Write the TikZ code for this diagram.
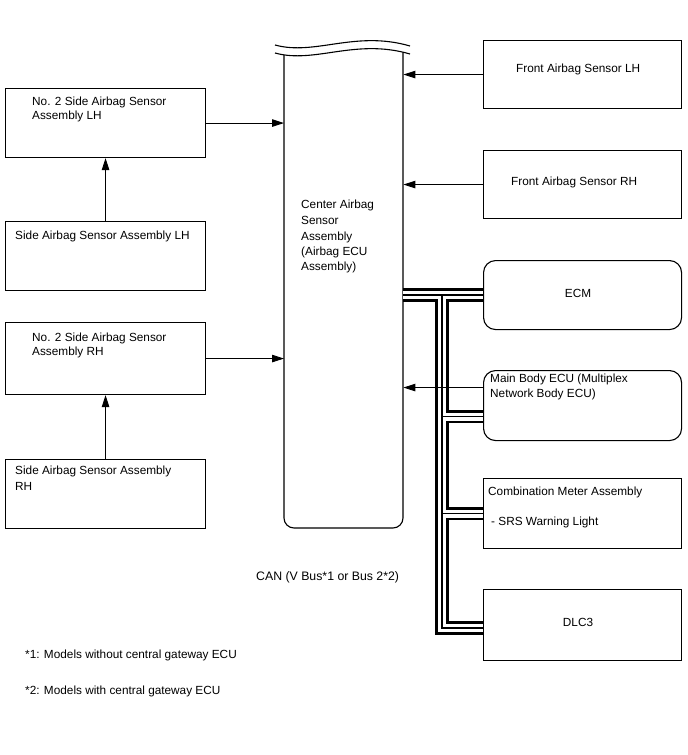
\documentclass[tikz,border=0pt]{standalone}
\usepackage{fontspec}
\setmainfont{Liberation Sans}
\usetikzlibrary{arrows.meta}
\begin{document}
\begin{tikzpicture}[x=1pt,y=-1pt,
  box/.style={draw, line width=1.1pt, inner sep=0pt, anchor=north west},
  txt/.style={anchor=base west, inner sep=0pt, font=\fontsize{11.8}{14}\selectfont},
  arr/.style={line width=0.9pt, -{Triangle[length=12pt,width=7.5pt]}},
  bus/.style={draw=black, line width=13.5pt,
    postaction={draw=white, line width=8pt},
    postaction={draw=black, line width=1.3pt}}]
\fill[white] (0,0) rectangle (688,755);
\useasboundingbox (0,0) rectangle (688,755);

% left boxes
\node[box, minimum width=200pt, minimum height=69pt] (lh2) at (5,88) {};
\node[box, minimum width=200pt, minimum height=69pt] (slh) at (5,221) {};
\node[box, minimum width=200pt, minimum height=72pt] (rh2) at (5,322) {};
\node[box, minimum width=200pt, minimum height=69pt] (srh) at (5,459) {};
% right boxes
\node[box, minimum width=198pt, minimum height=68pt] (flh) at (483,40) {};
\node[box, minimum width=198pt, minimum height=68pt] (frh) at (483,150) {};
\node[box, rounded corners=12pt, minimum width=198pt, minimum height=69pt] (ecm) at (483,260) {};
\node[box, rounded corners=12pt, minimum width=198pt, minimum height=70pt] (mb) at (483,370) {};
\node[box, minimum width=198pt, minimum height=70pt] (comb) at (483,478) {};
\node[box, minimum width=198pt, minimum height=71pt] (dlc) at (483,589) {};

% center box
\node[inner sep=0pt, anchor=north west, minimum width=119pt, minimum height=476pt] (cab) at (284,52) {};
\draw[line width=1.1pt, rounded corners=10pt] (284,55) -- (284,528) -- (403,528) -- (403,52.3);
\draw[line width=1.1pt] (275,45) .. controls (315,56) and (355,30) .. (410,46);
\draw[line width=1.1pt] (275,53) .. controls (315,64) and (355,38) .. (410,54);

% CAN bus
\coordinate (trunk) at (442,0);
\coordinate (mbj) at ([yshift=-11pt]mb.west);
\coordinate (dlcj) at ([yshift=-3pt]dlc.west);
\path[bus] (ecm.west -| cab.east) -- (ecm.west)
  (ecm.west -| trunk) -- (dlcj -| trunk) -- (dlcj)
  (mbj -| trunk) -- (mbj)
  (comb.west -| trunk) -- (comb.west);

% arrows
\draw[arr] (lh2.east) -- (lh2.east -| cab.west);
\draw[arr] (rh2.east) -- (rh2.east -| cab.west);
\draw[arr] (slh.north) -- (lh2.south);
\draw[arr] (srh.north) -- (rh2.south);
\draw[arr] (flh.west) -- (flh.west -| cab.east);
\draw[arr] (frh.west) -- (frh.west -| cab.east);
\coordinate (mba) at ([yshift=18pt]mb.west);
\draw[arr] (mba) -- (mba -| cab.east);

% texts
\node[txt] (t1a) at (32,105) {No. 2 Side Airbag Sensor};
\node[txt] (t1b) at (32,119) {Assembly LH};
\node[txt] (t2) at (15,239) {Side Airbag Sensor Assembly LH};
\node[txt] (t3a) at (32,341) {No. 2 Side Airbag Sensor};
\node[txt] (t3b) at (32,355) {Assembly RH};
\node[txt] (t4a) at (15,474) {Side Airbag Sensor Assembly};
\node[txt] (t4b) at (15,490) {RH};
\node[txt] (c1) at (301,208) {Center Airbag};
\node[txt] (c2) at (301,224) {Sensor};
\node[txt] (c3) at (301,240) {Assembly};
\node[txt] (c4) at (301,255) {(Airbag ECU};
\node[txt] (c5) at (301,270) {Assembly)};
\node[txt] (f1) at (516,72) {Front Airbag Sensor LH};
\node[txt] (f2) at (511,185) {Front Airbag Sensor RH};
\node[txt, anchor=base] (e1) at (578,297) {ECM};
\node[txt] (m1) at (490,382) {Main Body ECU (Multiplex};
\node[txt] (m2) at (490,397) {Network Body ECU)};
\node[txt] (k1) at (488,495) {Combination Meter Assembly};
\node[txt] (k2) at (491,525) {- SRS Warning Light};
\node[txt, anchor=base] (d1) at (578,626) {DLC3};
\node[txt, font=\fontsize{12.3}{14}\selectfont] (can) at (256,580) {CAN (V Bus*1 or Bus 2*2)};
\node[txt] (n1) at (25,658) {*1: Models without central gateway ECU};
\node[txt] (n2) at (25,694) {*2: Models with central gateway ECU};
\end{tikzpicture}
\end{document}
